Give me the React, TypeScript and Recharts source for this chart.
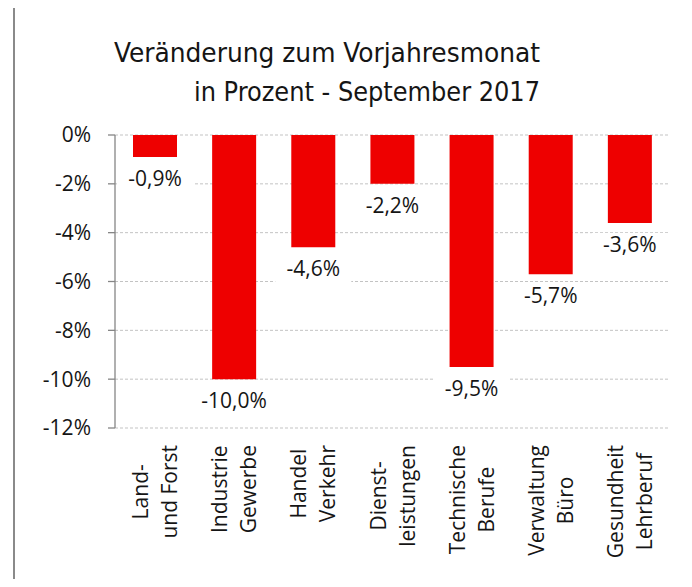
import React from 'react';
import { BarChart, Bar, XAxis, YAxis, CartesianGrid, LabelList } from 'recharts';

const categories = [
  'Land-\nund Forst',
  'Industrie\nGewerbe',
  'Handel\nVerkehr',
  'Dienst-\nleistungen',
  'Technische\nBerufe',
  'Verwaltung\nBüro',
  'Gesundheit\nLehrberuf',
];
const values = [-0.9, -10.0, -4.6, -2.0, -9.5, -5.7, -3.6];
const valueLabels = ['-0,9%', '-10,0%', '-4,6%', '-2,2%', '-9,5%', '-5,7%', '-3,6%'];
const yTicks = [-12, -10, -8, -6, -4, -2, 0];
const boundaryTicks = [0, 1, 2, 3, 4, 5, 6, 7];
const titleLines = ['Veränderung zum Vorjahresmonat', 'in Prozent - September 2017'];

const data = categories.map((name, i) => ({ name, value: values[i], label: valueLabels[i] }));

const TEXT = '#151515';
const AXIS = '#868686';
const FONT = "'Open Sans', 'DejaVu Sans', sans-serif";

let ctx: CanvasRenderingContext2D | null = null;
const measure = (t: string, font: string) => {
  if (!ctx) ctx = document.createElement('canvas').getContext('2d');
  if (!ctx) return t.length * 10;
  ctx.font = font;
  return ctx.measureText(t).width;
};

const CategoryTick = (props: any) => {
  const { x, y, payload } = props;
  const lines = String(payload.value).split('\n');
  const maxW = Math.max(...lines.map((l) => measure(l, "21px 'Open Sans'")));
  const top = y + 17;
  const cy = top + maxW / 2;
  return (
    <g>
      {lines.map((l, i) => {
        const lx = x + (i - (lines.length - 1) / 2) * 29;
        return (
          <text
            key={i}
            x={lx}
            y={cy}
            transform={`rotate(-90 ${lx} ${cy})`}
            textAnchor="middle"
            dominantBaseline="central"
            fontSize={21}
            fontFamily={FONT}
            fill={TEXT}
          >
            {l}
          </text>
        );
      })}
    </g>
  );
};

const ValueLabel = (props: any) => {
  const vb = props.viewBox || {};
  const x = props.x ?? vb.x;
  const y = props.y ?? vb.y;
  const w = props.width ?? vb.width;
  const h = props.height ?? vb.height;
  const bottom = Math.max(y, y + h);
  const cx = x + w / 2;
  return (
    <g>
      <rect x={cx - 38} y={bottom + 10} width={76} height={30} fill="#ffffff" />
      <text x={cx} y={bottom + 29} textAnchor="middle" fontSize={21} fontFamily={FONT} fill={TEXT}>
        {props.value}
      </text>
    </g>
  );
};

export default function App() {
  return (
    <div style={{ position: 'relative', width: 692, height: 587, margin: -8, overflow: 'hidden', background: '#fff' }}>
      <div style={{ position: 'absolute', left: 0, top: 0 }}>
        <BarChart
          width={692}
          height={587}
          data={data}
          margin={{ top: 135, right: 23, left: 55, bottom: 29 }}
        >
          <CartesianGrid vertical={false} stroke="#c3c3c3" strokeDasharray="3 2" />
          <XAxis
            dataKey="name"
            height={130}
            axisLine={false}
            tickLine={false}
            tickSize={0}
            tickMargin={0}
            interval={0}
            tick={<CategoryTick />}
          />
          <XAxis
            xAxisId="top"
            type="number"
            orientation="top"
            mirror
            height={0}
            domain={[0, 7]}
            ticks={boundaryTicks}
            allowDataOverflow
            tick={false}
            tickSize={7}
            axisLine={{ stroke: AXIS, strokeWidth: 1.3 }}
            tickLine={{ stroke: AXIS, strokeWidth: 1.3 }}
          />
          <YAxis
            domain={[-12, 0]}
            ticks={yTicks}
            interval={0}
            allowDataOverflow
            width={60}
            tickSize={7}
            tickMargin={17}
            tickFormatter={(v: number) => `${v}%`}
            axisLine={{ stroke: AXIS, strokeWidth: 1.3 }}
            tickLine={{ stroke: AXIS, strokeWidth: 1.3 }}
            tick={{ fontSize: 21, fontFamily: FONT, fill: TEXT }}
          />
          <Bar dataKey="value" fill="#ee0000" barSize={44} isAnimationActive={false}>
            <LabelList dataKey="label" content={<ValueLabel />} />
          </Bar>
        </BarChart>
      </div>
      <svg
        width={692}
        height={587}
        style={{ position: 'absolute', left: 0, top: 0, pointerEvents: 'none' }}
      >
        <rect x={14} y={7} width={674} height={620} fill="none" stroke="#8a8a8a" strokeWidth={2} />
        <text
          x={114}
          y={62}
          fontSize={27}
          fontFamily="'Liberation Sans Narrow', 'DejaVu Sans Condensed', 'Liberation Sans', sans-serif"
          fill={TEXT}
          textLength={426}
          lengthAdjust="spacingAndGlyphs"
        >
          {titleLines[0]}
        </text>
        <text
          x={194}
          y={101}
          fontSize={27}
          fontFamily="'Liberation Sans Narrow', 'DejaVu Sans Condensed', 'Liberation Sans', sans-serif"
          fill={TEXT}
          textLength={346}
          lengthAdjust="spacingAndGlyphs"
        >
          {titleLines[1]}
        </text>
      </svg>
    </div>
  );
}
